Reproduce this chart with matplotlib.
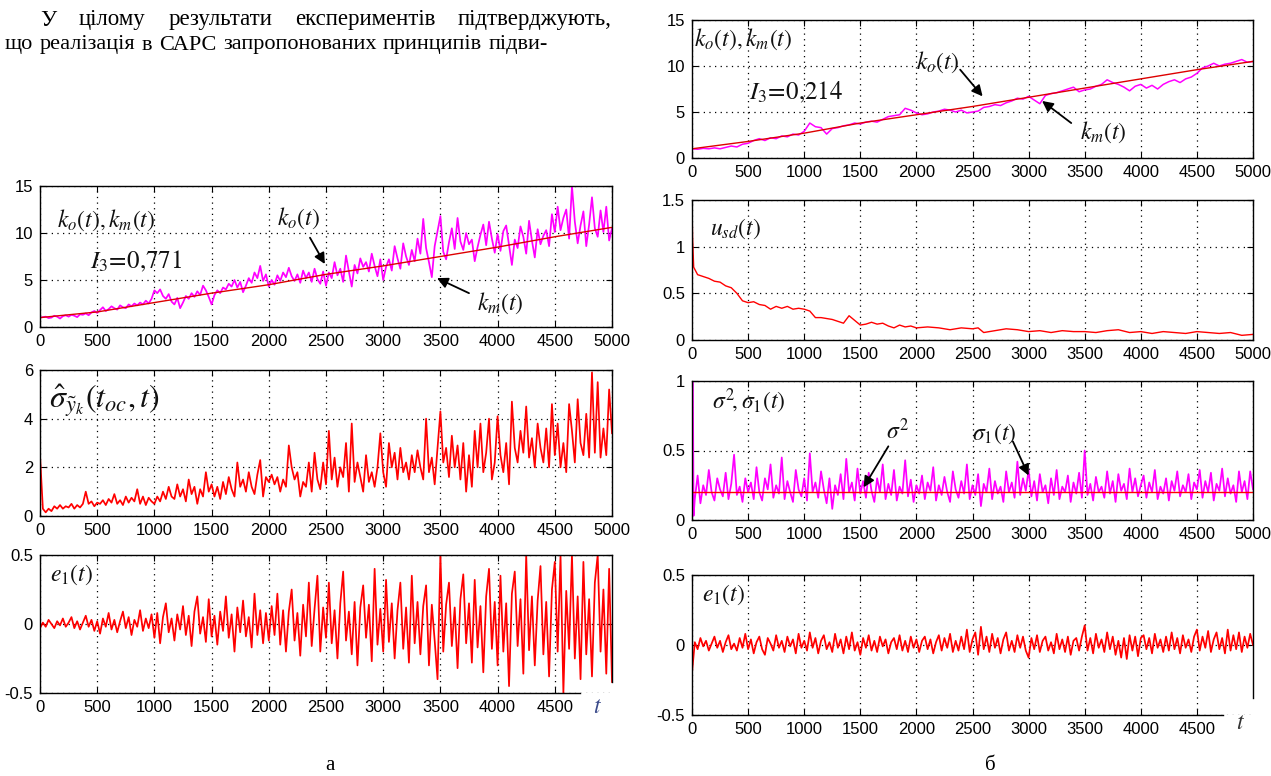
import numpy as np
import matplotlib
matplotlib.use("Agg")
import matplotlib.pyplot as plt

TICKFONT = 'Liberation Sans'
TICKSIZE = 12
plt.rcParams['font.family'] = [TICKFONT, 'DejaVu Sans']
plt.rcParams['mathtext.fontset'] = 'stix'

# ---------------- data ----------------
# left (а)
ko_t = [0, 500, 1000, 1500, 2000, 2500, 3000, 3500, 4000, 4500, 5000]
ko_left = [1.0, 1.6, 2.6, 3.6, 4.5, 5.6, 6.5, 7.5, 8.5, 9.6, 10.6]
km_left = [1.0,
           1.05, 1.1, 0.95, 1.0, 1.2, 1.1, 0.9, 1.15, 1.25, 1.1, 1.3, 1.2, 1.05, 1.35, 1.3, 1.45, 1.25, 1.55, 1.7, 1.5,
           1.8, 2.1, 1.7, 1.9, 2.2, 2.0, 1.85, 2.3, 2.1, 2.0, 2.4, 2.2, 2.5, 2.3, 2.6, 2.4, 2.8, 2.5, 3.0, 3.9,
           3.6, 4.0, 3.3, 3.0, 3.5, 2.7, 2.4, 3.1, 2.0, 2.6, 3.3, 3.0, 3.6, 3.2, 3.8, 3.4, 4.4, 3.9, 3.2, 2.4,
           3.4, 3.9, 3.6, 4.2, 4.0, 4.6, 4.3, 5.0, 4.2, 4.8, 3.7, 4.4, 5.2, 4.7, 5.8, 5.2, 6.5, 4.9, 5.6, 4.3,
           5.0, 4.5, 5.5, 4.9, 5.8, 5.3, 6.3, 5.4, 4.9, 5.6, 4.7, 6.0, 5.2, 5.8, 4.8, 6.2, 5.1, 4.6, 5.9, 4.4,
           5.8, 5.2, 6.9, 5.5, 6.2, 4.8, 7.6, 5.9, 4.3, 6.6, 5.7, 7.3, 6.4, 6.9, 5.9, 7.8, 6.5, 5.4, 7.2, 5.0,
           6.4, 7.2, 6.0, 8.6, 7.3, 6.2, 8.9, 7.5, 6.6, 8.2, 7.0, 9.4, 7.8, 11.5, 8.4, 6.9, 5.3, 8.6, 10.2, 11.8,
           8.0, 7.2, 9.0, 10.5, 8.3, 11.6, 9.1, 8.2, 10.0, 8.8, 9.3, 7.0, 8.5, 9.8, 10.9, 8.7, 11.2, 9.4, 7.9, 9.9,
           8.1, 10.2, 10.8, 8.7, 6.6, 9.3, 8.4, 10.7, 9.6, 7.8, 11.3, 9.2, 7.4, 10.4, 8.8, 9.7, 10.3, 8.6, 12.0, 10.1,
           12.8, 10.3, 11.6, 12.5, 9.4, 15.0, 11.2, 8.9, 10.8, 12.3, 8.6, 10.9, 13.8, 10.5, 9.6, 12.4, 10.1, 12.8, 9.2, 10.5]
sig_hat = [2.5,
           0.3, 0.15, 0.3, 0.2, 0.4, 0.3, 0.45, 0.3, 0.4, 0.35, 0.5, 0.3, 0.45, 0.35, 0.5, 1.0, 0.5, 0.6, 0.4, 0.55,
           0.5, 0.65, 0.45, 0.7, 0.55, 0.9, 0.5, 0.65, 0.45, 0.8, 0.55, 0.75, 0.6, 1.1, 0.5, 0.8, 0.45, 0.75, 0.6, 0.5,
           0.8, 0.6, 1.0, 0.7, 1.2, 0.8, 0.7, 1.3, 0.8, 1.1, 0.6, 1.5, 0.9, 1.2, 0.5, 1.1, 0.8, 1.8, 1.0, 1.3,
           0.8, 1.2, 0.7, 1.4, 0.9, 1.6, 1.1, 0.8, 2.2, 1.2, 1.5, 1.0, 1.8, 1.2, 0.9, 1.7, 2.3, 0.8, 1.6, 1.4,
           1.7, 1.3, 1.6, 1.0, 1.5, 1.2, 2.9, 2.0, 1.5, 1.8, 0.8, 1.4, 1.2, 2.2, 1.0, 2.6, 1.5, 1.1, 2.2, 1.3,
           3.5, 1.5, 2.4, 1.2, 2.0, 1.6, 3.0, 1.0, 3.8, 1.4, 2.2, 1.6, 1.0, 2.5, 1.4, 1.8, 1.2, 2.0, 3.4, 1.8,
           1.2, 3.0, 2.0, 2.6, 1.5, 2.8, 1.8, 2.2, 1.5, 2.5, 1.8, 2.7, 2.0, 1.5, 4.0, 1.8, 2.4, 1.3, 2.8, 4.3,
           2.2, 2.8, 1.6, 3.3, 2.0, 2.9, 1.5, 3.0, 1.0, 2.5, 1.2, 3.5, 2.0, 3.8, 1.8, 2.6, 4.0, 1.5, 2.2, 4.1,
           2.5, 1.8, 3.0, 1.3, 4.7, 2.8, 2.2, 3.5, 2.6, 4.5, 2.4, 3.2, 2.0, 3.8, 2.8, 2.2, 3.6, 2.0, 4.6, 2.5,
           3.8, 2.0, 3.0, 1.8, 4.6, 3.5, 2.2, 4.8, 3.0, 2.5, 4.2, 2.4, 5.9, 2.6, 5.5, 2.4, 3.6, 2.5, 5.2, 3.4]
e1_left = [-0.03,
           0.01, -0.02, 0.03, 0.0, -0.03, 0.02, -0.01, 0.04, -0.02, 0.01, 0.05, -0.03, 0.02, -0.04, 0.01, 0.06, -0.02, 0.03, -0.05, 0.02,
           -0.07, 0.04, -0.02, 0.08, -0.04, 0.03, -0.06, 0.02, 0.09, -0.03, 0.05, -0.08, 0.03, -0.02, 0.1, -0.05, 0.04, -0.03, 0.07, -0.1,
           0.08, -0.14, 0.05, 0.15, -0.06, 0.04, -0.12, 0.07, -0.04, 0.13, -0.08, 0.06, -0.16, 0.09, 0.2, -0.07, 0.05, -0.13, 0.18, -0.09,
           0.06, -0.15, 0.09, -0.05, 0.2, -0.1, 0.07, -0.2, 0.12, -0.06, 0.17, -0.09, 0.05, -0.17, 0.22, -0.08, 0.1, -0.14, 0.08, -0.12,
           0.13, -0.08, 0.22, -0.15, 0.1, -0.2, 0.09, 0.25, -0.12, 0.08, -0.23, 0.14, -0.09, 0.3, -0.16, 0.11, 0.35, -0.2, 0.12, -0.1,
           0.3, -0.14, 0.1, -0.25, 0.15, 0.38, -0.12, 0.09, -0.22, 0.16, -0.3, 0.12, 0.28, -0.1, 0.14, -0.27, 0.4, -0.15, 0.11, -0.2,
           0.32, -0.13, 0.15, -0.25, 0.1, 0.3, -0.18, 0.12, -0.28, 0.35, -0.14, 0.16, -0.22, 0.13, 0.28, -0.3, 0.14, -0.12, -0.4, 0.5,
           -0.2, 0.14, 0.3, -0.16, 0.12, -0.32, 0.18, 0.36, -0.14, 0.15, -0.28, 0.32, -0.17, 0.13, -0.35, 0.2, 0.4, -0.18, 0.16, -0.3,
           0.35, -0.2, 0.15, -0.45, 0.22, 0.38, -0.16, 0.18, -0.36, 0.5, -0.19, 0.2, -0.3, 0.17, 0.42, -0.22, 0.16, -0.38, 0.25, 0.45,
           -0.2, 0.5, -0.5, 0.24, -0.18, 0.5, -0.25, 0.2, -0.4, 0.45, -0.22, 0.18, -0.38, 0.3, 0.5, -0.2, 0.25, -0.36, 0.4, -0.42]

# right (б)
ko_right = [1.0, 1.8, 2.7, 3.8, 4.7, 5.6, 6.6, 7.6, 8.6, 9.6, 10.5]
km_right = [1.0, 0.95, 1.05, 1.0, 1.1, 1.0, 1.15, 1.3, 1.2, 1.5, 1.6,
            1.9, 2.1, 1.9, 2.2, 2.1, 2.4, 2.3, 2.6, 2.5, 2.9,
            3.8, 3.4, 3.3, 2.6, 3.2, 3.3, 3.5, 3.6, 3.8, 3.7,
            3.9, 4.0, 3.9, 4.2, 4.5, 4.6, 4.7, 5.4, 5.2, 4.9,
            4.7, 4.8, 5.0, 5.1, 5.3, 5.2, 5.0, 5.2, 4.9, 5.0,
            5.1, 5.5, 5.6, 5.8, 5.7, 6.0, 6.2, 6.5, 6.4, 6.7,
            6.3, 5.9, 6.8, 7.0, 7.1, 7.3, 7.5, 7.7, 7.2, 7.4,
            7.5, 7.8, 8.0, 8.5, 8.2, 8.0, 7.7, 7.3, 7.8, 8.0,
            7.6, 7.9, 7.5, 8.0, 8.3, 8.5, 8.2, 8.6, 8.8, 9.2,
            9.8, 10.0, 10.3, 10.0, 10.2, 10.3, 10.5, 10.7, 10.4, 10.5]
usd_t = [0, 5, 15, 50, 100, 150, 200, 250, 300, 350, 400, 450, 500, 550, 600, 650, 700, 750, 800,
         850, 900, 950, 1000, 1050, 1100, 1150, 1200, 1250, 1300, 1350, 1400, 1450, 1500, 1550,
         1600, 1650, 1700, 1750, 1800, 1850, 1900, 1950, 2000, 2100, 2200, 2300, 2400, 2500,
         2550, 2600, 2700, 2800, 2900, 3000, 3100, 3200, 3300, 3400, 3500, 3600, 3700, 3800,
         3900, 4000, 4100, 4200, 4300, 4400, 4500, 4600, 4700, 4800, 4900, 5000]
usd_v = [1.45, 1.1, 0.78, 0.7, 0.68, 0.66, 0.63, 0.62, 0.58, 0.56, 0.5, 0.42, 0.4, 0.41, 0.38, 0.37,
         0.33, 0.36, 0.34, 0.36, 0.33, 0.34, 0.33, 0.31, 0.24, 0.24, 0.23, 0.22, 0.2, 0.18, 0.26,
         0.21, 0.16, 0.17, 0.19, 0.17, 0.18, 0.15, 0.13, 0.16, 0.14, 0.15, 0.13, 0.14, 0.13, 0.11,
         0.13, 0.12, 0.13, 0.08, 0.1, 0.12, 0.11, 0.09, 0.1, 0.08, 0.1, 0.09, 0.09, 0.08, 0.1,
         0.11, 0.08, 0.09, 0.07, 0.09, 0.08, 0.07, 0.09, 0.08, 0.07, 0.08, 0.05, 0.06]
sigma2_t = [0, 5000]
sigma2_v = [0.2, 0.2]
sig1_head_t = [0, 8, 14]
sig1_head = [1.0, 1.0, 0.03]
sig1 = [0.15, 0.32, 0.12, 0.25, 0.18, 0.36, 0.2, 0.14, 0.3, 0.22, 0.17, 0.34, 0.15, 0.26, 0.47, 0.18, 0.24, 0.13, 0.3, 0.2,
        0.27, 0.15, 0.38, 0.2, 0.14, 0.3, 0.22, 0.4, 0.16, 0.25, 0.19, 0.45, 0.15, 0.28, 0.2, 0.13, 0.36, 0.22, 0.17, 0.3,
        0.14, 0.48, 0.2, 0.27, 0.16, 0.35, 0.22, 0.12, 0.3, 0.08, 0.25, 0.18, 0.33, 0.15, 0.44, 0.2, 0.27, 0.14, 0.37, 0.19,
        0.28, 0.16, 0.34, 0.21, 0.13, 0.3, 0.2, 0.4, 0.15, 0.26, 0.18, 0.36, 0.14, 0.24, 0.19, 0.43, 0.17, 0.29, 0.13, 0.25,
        0.19, 0.32, 0.15, 0.27, 0.21, 0.38, 0.14, 0.25, 0.18, 0.31, 0.2, 0.13, 0.35, 0.22, 0.16, 0.28, 0.19, 0.4, 0.15, 0.25,
        0.18, 0.33, 0.1, 0.26, 0.2, 0.37, 0.15, 0.28, 0.19, 0.24, 0.13, 0.35, 0.2, 0.27, 0.16, 0.42, 0.18, 0.3, 0.21, 0.36,
        0.17, 0.28, 0.14, 0.33, 0.2, 0.25, 0.12, 0.3, 0.18, 0.36, 0.15, 0.24, 0.2, 0.32, 0.13, 0.27, 0.19, 0.34, 0.16, 0.5,
        0.18, 0.26, 0.14, 0.31, 0.2, 0.24, 0.16, 0.35, 0.19, 0.28, 0.13, 0.33, 0.21, 0.26, 0.15, 0.37, 0.2, 0.3, 0.17, 0.25,
        0.32, 0.16, 0.27, 0.2, 0.36, 0.15, 0.24, 0.19, 0.3, 0.14, 0.28, 0.21, 0.35, 0.17, 0.25, 0.2, 0.33, 0.15, 0.27, 0.22,
        0.36, 0.16, 0.28, 0.2, 0.34, 0.14, 0.26, 0.21, 0.37, 0.17, 0.3, 0.19, 0.25, 0.13, 0.35, 0.2, 0.28, 0.15, 0.35, 0.22]
e1_right = [-0.2,
            0.02, -0.03, 0.05, -0.01, 0.03, -0.04, 0.01, 0.06, -0.02, 0.03, -0.05, 0.02, 0.07, -0.03, 0.01, -0.04, 0.05, -0.02, 0.08, -0.03,
            0.04, -0.06, 0.02, 0.06, -0.03, -0.07, 0.05, 0.01, -0.04, 0.07, -0.02, 0.03, -0.05, 0.06, -0.01, 0.04, -0.06, 0.08, -0.02, 0.03,
            -0.04, 0.09, -0.02, 0.05, -0.06, 0.03, 0.07, -0.03, 0.02, -0.05, 0.08, -0.02, 0.04, -0.06, 0.06, -0.03, 0.09, -0.04, 0.02, -0.07,
            0.05, -0.02, 0.07, -0.04, 0.03, -0.05, 0.06, -0.01, 0.04, -0.06, 0.02, 0.05, -0.03, 0.07, -0.04, 0.03, -0.05, 0.06, -0.02, 0.04,
            -0.05, 0.03, 0.06, -0.03, 0.04, -0.06, 0.02, 0.07, -0.04, 0.05, -0.02, 0.08, -0.05, 0.03, -0.04, 0.06, -0.03, 0.11, -0.05, 0.04,
            0.09, -0.07, 0.13, -0.03, 0.06, -0.05, 0.08, -0.02, 0.05, -0.06, 0.04, 0.09, -0.04, 0.03, -0.05, 0.07, -0.02, 0.06, -0.04, -0.09,
            0.05, -0.03, 0.07, -0.05, 0.03, 0.06, -0.04, 0.02, -0.06, 0.08, -0.03, 0.04, -0.05, 0.06, -0.07, 0.03, 0.05, -0.04, 0.06, 0.14,
            -0.04, 0.05, -0.06, 0.08, -0.02, 0.04, -0.05, 0.09, -0.03, 0.06, -0.07, 0.03, -0.09, 0.05, -0.1, 0.07, -0.04, 0.06, -0.08, 0.05,
            0.07, -0.03, 0.05, -0.06, 0.08, -0.02, 0.04, -0.05, 0.06, -0.04, 0.09, -0.03, 0.05, -0.06, 0.07, -0.02, 0.04, -0.05, 0.06, 0.11,
            -0.04, 0.06, -0.02, 0.1, -0.05, 0.04, 0.09, -0.03, 0.05, -0.06, 0.11, -0.04, 0.07, -0.03, 0.09, -0.05, 0.06, -0.02, 0.08, 0.0]

xt_full = [0, 500, 1000, 1500, 2000, 2500, 3000, 3500, 4000, 4500, 5000]
xt_cut = [0, 500, 1000, 1500, 2000, 2500, 3000, 3500, 4000, 4500]

t50 = np.arange(0, 5001, 50)
t25 = np.arange(0, 5001, 25)
t25s = np.arange(25, 5001, 25)

MAG = '#ff00ff'
RED = '#ff0000'
LBL = 17
NLW = 1.25

fig = plt.figure(figsize=(12.71, 7.76), dpi=100)
W, H = 1271, 776


def mkax(x0, x1, ytop, ybot):
    return fig.add_axes([x0 / W, 1 - ybot / H, (x1 - x0) / W, (ybot - ytop) / H])


def style(ax, ylim, yticks, ylabels, xticks):
    ax.set_xlim(0, 5000)
    ax.set_ylim(*ylim)
    ax.set_xticks(xticks)
    ax.set_xticklabels([str(v) for v in xticks])
    ax.set_yticks(yticks)
    ax.set_yticklabels(ylabels)
    ax.grid(True, color='k', linestyle=(0, (1, 3.5)), linewidth=0.9)
    ax.tick_params(direction='in', length=4, width=0.8, top=True, right=True,
                   labelsize=TICKSIZE, pad=5, colors='k')
    for s in ax.spines.values():
        s.set_linewidth(1.0)
        s.set_color('k')


def lab(ax, x, y, s, size=LBL, ha='left'):
    ax.text(x, y, s, fontsize=size, ha=ha, va='center', color='#111111')


def arrow(ax, start, end):
    ax.annotate('', xy=end, xytext=start,
                arrowprops=dict(arrowstyle='-|>', color='k', lw=1.3, mutation_scale=16,
                                shrinkA=0, shrinkB=0))


def cut_bottom(ax, xend, yend):
    ax.spines['bottom'].set_bounds(0, xend)
    ax.spines['right'].set_bounds(yend, 0.5)
    for tk in ax.yaxis.get_major_ticks():
        if tk.get_loc() < yend:
            tk.tick2line.set_visible(False)


# ---- left column ----
a1 = mkax(40, 612, 186, 327)
a1.plot(t25, km_left, color=MAG, lw=NLW)
a1.plot(ko_t, ko_left, color='#dd0000', lw=1.0)
style(a1, (0, 15), [0, 5, 10, 15], ['0', '5', '10', '15'], xt_full)
lab(a1, 150, 11.4, r'$k_o(t),k_m(t)$')
lab(a1, 440, 7.0, r'$I_3\!=\!\mathit{0{,}771}$', size=18)
lab(a1, 2260, 11.6, r'$k_o(t)$', ha='center')
lab(a1, 4020, 2.5, r'$k_m(t)$', ha='center')
arrow(a1, (2360, 9.5), (2490, 6.7))
arrow(a1, (3750, 3.6), (3470, 5.2))

a2 = mkax(40, 612, 370, 516)
a2.plot(t25, sig_hat, color=RED, lw=NLW)
style(a2, (0, 6), [0, 2, 4, 6], ['0', '2', '4', '6'], xt_full)
lab(a2, 80, 4.75, r'$\hat{\sigma}_{\tilde{y}_k}(t_{oc},t)$', size=23)

a3 = mkax(40, 612, 555, 693)
a3.plot(t25, e1_left, color=RED, lw=NLW)
style(a3, (-0.5, 0.5), [-0.5, 0, 0.5], ['-0.5', '0', '0.5'], xt_cut)
cut_bottom(a3, 4720, -0.42)
lab(a3, 90, 0.36, r'$e_1(t)$')
a3.text(4870, -0.6, r'$t$', fontsize=17, ha='center', va='center', color='#3a4a8a')

# ---- right column ----
b1 = mkax(692, 1253, 20, 158)
b1.plot(t50, km_right, color=MAG, lw=1.1)
b1.plot(ko_t, ko_right, color='#dd0000', lw=1.0)
style(b1, (0, 15), [0, 5, 10, 15], ['0', '5', '10', '15'], xt_full)
lab(b1, 15, 12.9, r'$k_o(t),k_m(t)$')
lab(b1, 510, 7.1, r'$I_3\!=\!\mathit{0{,}214}$', size=18)
lab(b1, 2190, 10.4, r'$k_o(t)$', ha='center')
lab(b1, 3665, 2.8, r'$k_m(t)$', ha='center')
arrow(b1, (2390, 9.6), (2590, 6.7))
arrow(b1, (3380, 3.8), (3120, 6.2))

b2 = mkax(692, 1253, 200, 340)
b2.plot(usd_t, usd_v, color=RED, lw=1.0)
style(b2, (0, 1.5), [0, 0.5, 1, 1.5], ['0', '0.5', '1', '1.5'], xt_full)
lab(b2, 160, 1.19, r'$u_{sd}(t)$')

b3 = mkax(692, 1253, 381, 520)
b3.plot(list(sig1_head_t) + list(t25s), list(sig1_head) + list(sig1), color=MAG, lw=NLW)
b3.plot(sigma2_t, sigma2_v, color=RED, lw=1.0)
style(b3, (0, 1), [0, 0.5, 1], ['0', '0.5', '1'], xt_full)
lab(b3, 180, 0.85, r'$\sigma^2\!,\sigma_1(t)$')
lab(b3, 1830, 0.64, r'$\sigma^2$', ha='center')
lab(b3, 2690, 0.62, r'$\sigma_1(t)$', ha='center')
arrow(b3, (1750, 0.53), (1530, 0.235))
arrow(b3, (2860, 0.565), (3000, 0.32))

b4 = mkax(692, 1253, 575, 715)
b4.plot(t25, e1_right, color=RED, lw=NLW)
style(b4, (-0.5, 0.5), [-0.5, 0, 0.5], ['-0.5', '0', '0.5'], xt_cut)
cut_bottom(b4, 4730, -0.38)
lab(b4, 85, 0.36, r'$e_1(t)$')
b4.text(4890, -0.56, r'$t$', fontsize=17, ha='center', va='center', color='#333333')

# ---- surrounding page text (justified) ----
SER = ['Liberation Serif', 'DejaVu Serif']
renderer = fig.canvas.get_renderer()


def justified(line, x0, x1, ypix, size):
    words = line.split(' ')
    arts = [fig.text(0, 1 - ypix / H, w, family=SER, fontsize=size, ha='left', va='center')
            for w in words]
    widths = [a.get_window_extent(renderer).width for a in arts]
    gap = ((x1 - x0) - sum(widths)) / max(len(words) - 1, 1)
    x = x0
    for a, w in zip(arts, widths):
        a.set_x(x / W)
        x += w + gap


justified('У цілому результати експериментів підтверджують,', 40, 612, 20, 16.5)
justified('що реалізація в САРС запропонованих принципів підви-', 5, 548, 45, 16)
fig.text(330 / W, 1 - 765 / H, 'а', family=SER, fontsize=15, ha='center', va='center')
fig.text(990 / W, 1 - 765 / H, 'б', family=SER, fontsize=15, ha='center', va='center')

fig.savefig('out.png', dpi=100, facecolor='white')
